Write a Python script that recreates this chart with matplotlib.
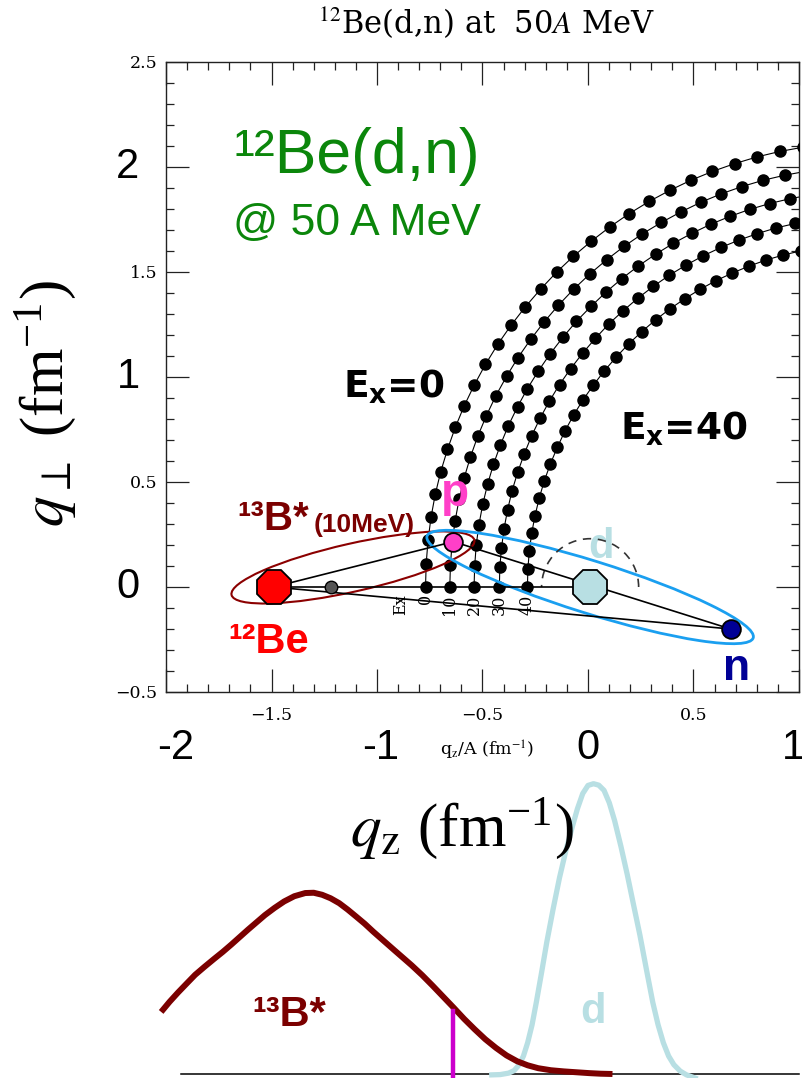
import matplotlib
matplotlib.use('Agg')
import matplotlib.pyplot as plt
from matplotlib.patches import Ellipse, Arc
from matplotlib.ticker import MultipleLocator

plt.rcParams['mathtext.fontset'] = 'stix'

# ---------------- data ----------------
ex_values = ['0', '10', '20', '30', '40']

qz_ex0 = [-0.770, -0.767, -0.758, -0.744, -0.724, -0.698, -0.666, -0.629, -0.587, -0.539, -0.486, -0.428, -0.365, -0.297,
          -0.225, -0.149, -0.069, 0.016, 0.104, 0.195, 0.290, 0.388, 0.488, 0.590, 0.695, 0.801, 0.909, 1.018]
qp_ex0 = [0.000, 0.111, 0.222, 0.332, 0.441, 0.549, 0.655, 0.760, 0.862, 0.962, 1.060, 1.155, 1.246, 1.334,
          1.418, 1.499, 1.575, 1.647, 1.715, 1.778, 1.836, 1.889, 1.937, 1.979, 2.016, 2.048, 2.074, 2.094]
qz_ex10 = [-0.655, -0.652, -0.644, -0.630, -0.611, -0.587, -0.557, -0.522, -0.482, -0.437, -0.386, -0.332, -0.272, -0.208,
           -0.140, -0.068, 0.008, 0.088, 0.171, 0.258, 0.348, 0.440, 0.535, 0.631, 0.730, 0.831, 0.933, 1.036]
qp_ex10 = [0.000, 0.105, 0.210, 0.314, 0.417, 0.519, 0.620, 0.719, 0.815, 0.910, 1.003, 1.092, 1.179, 1.262,
           1.342, 1.418, 1.490, 1.558, 1.622, 1.682, 1.736, 1.786, 1.832, 1.872, 1.907, 1.937, 1.961, 1.980]
qz_ex20 = [-0.540, -0.537, -0.530, -0.517, -0.499, -0.476, -0.448, -0.415, -0.377, -0.334, -0.287, -0.235, -0.179, -0.119,
           -0.055, 0.014, 0.085, 0.161, 0.239, 0.321, 0.405, 0.492, 0.581, 0.673, 0.766, 0.861, 0.957, 1.054]
qp_ex20 = [0.000, 0.099, 0.198, 0.296, 0.393, 0.489, 0.584, 0.677, 0.769, 0.858, 0.945, 1.029, 1.111, 1.189,
           1.265, 1.336, 1.404, 1.469, 1.529, 1.585, 1.637, 1.684, 1.727, 1.765, 1.798, 1.826, 1.849, 1.867]
qz_ex30 = [-0.420, -0.418, -0.410, -0.398, -0.381, -0.360, -0.333, -0.302, -0.267, -0.227, -0.183, -0.135, -0.082, -0.025,
           0.035, 0.098, 0.166, 0.236, 0.310, 0.386, 0.465, 0.546, 0.630, 0.716, 0.803, 0.892, 0.982, 1.073]
qp_ex30 = [0.000, 0.093, 0.185, 0.277, 0.368, 0.458, 0.547, 0.634, 0.720, 0.804, 0.885, 0.964, 1.040, 1.114,
           1.184, 1.252, 1.315, 1.375, 1.432, 1.485, 1.533, 1.577, 1.617, 1.652, 1.683, 1.710, 1.731, 1.748]
qz_ex40 = [-0.287, -0.285, -0.278, -0.267, -0.251, -0.231, -0.207, -0.178, -0.145, -0.109, -0.068, -0.023, 0.026, 0.078,
           0.134, 0.193, 0.255, 0.320, 0.388, 0.459, 0.532, 0.607, 0.684, 0.763, 0.844, 0.926, 1.010, 1.094]
qp_ex40 = [0.000, 0.086, 0.171, 0.256, 0.340, 0.424, 0.506, 0.587, 0.666, 0.743, 0.819, 0.892, 0.962, 1.030,
           1.095, 1.158, 1.216, 1.272, 1.324, 1.373, 1.418, 1.459, 1.495, 1.528, 1.557, 1.581, 1.601, 1.617]

curves_qz = [qz_ex0, qz_ex10, qz_ex20, qz_ex30, qz_ex40]
curves_qp = [qp_ex0, qp_ex10, qp_ex20, qp_ex30, qp_ex40]

# particle vectors (q_z, q_perp)
be12 = (-1.49, 0.0)
cm_pt = (-1.22, 0.0)
proton = (-0.638, 0.216)
deut = (0.01, 0.0)
neutron = (0.676, -0.200)

# ellipses: center, width, height, angle
b13_ell = ((-1.114, 0.093), 1.18, 0.228, 12.8)
pn_ell = ((0.01, 0.0), 1.62, 0.25, -17.4)
d_arc_radius = 0.23

# momentum distributions (bottom)
b13_qz = [-2.023, -1.983, -1.943, -1.902, -1.862, -1.817, -1.772, -1.731, -1.691, -1.651, -1.611, -1.571, -1.531,
          -1.485, -1.440, -1.392, -1.340, -1.300, -1.260, -1.220, -1.179, -1.139, -1.099, -1.058, -1.018, -0.968,
          -0.918, -0.877, -0.836, -0.786, -0.737, -0.687, -0.637, -0.587, -0.537, -0.487, -0.436, -0.386, -0.336,
          -0.286, -0.236, -0.176, -0.115, -0.055, 0.006, 0.060, 0.116]
b13_y = [0.214, 0.249, 0.281, 0.312, 0.342, 0.370, 0.397, 0.421, 0.446, 0.472, 0.498, 0.523, 0.548,
         0.573, 0.595, 0.613, 0.624, 0.625, 0.618, 0.606, 0.589, 0.567, 0.543, 0.518, 0.491, 0.459,
         0.427, 0.401, 0.375, 0.341, 0.305, 0.267, 0.229, 0.190, 0.154, 0.120, 0.090, 0.064, 0.044,
         0.030, 0.020, 0.013, 0.009, 0.006, 0.003, 0.001, 0.000]
d_qz = [-0.456, -0.416, -0.376, -0.350, -0.326, -0.306, -0.286, -0.265, -0.245, -0.220, -0.195, -0.165, -0.135,
        -0.105, -0.075, -0.050, -0.025, 0.000, 0.026, 0.051, 0.076, 0.101, 0.126, 0.156, 0.186, 0.216, 0.246,
        0.277, 0.307, 0.332, 0.357, 0.382, 0.407, 0.437, 0.467, 0.508]
d_y = [-0.003, -0.002, 0.003, 0.012, 0.032, 0.062, 0.108, 0.170, 0.247, 0.350, 0.456, 0.570, 0.677,
       0.770, 0.851, 0.915, 0.967, 0.995, 1.001, 0.996, 0.978, 0.935, 0.874, 0.785, 0.688, 0.583, 0.479,
       0.360, 0.247, 0.170, 0.108, 0.062, 0.032, 0.010, -0.003, -0.014]
p_mark_qz = -0.64
p_mark_y = [-0.01, 0.218]
base_qz = [-1.93, 1.0]

x_major = [-2.0, -1.5, -1.0, -0.5, 0.0, 0.5, 1.0]
x_small_labels = ['', '\u22121.5', '', '\u22120.5', '', '0.5', '']
y_major = [-0.5, 0.0, 0.5, 1.0, 1.5, 2.0, 2.5]
y_small_labels = ['\u22120.5', '', '0.5', '', '1.5', '', '2.5']
big_x_labels = ['-2', '-1', '0', '1']
big_y_labels = ['2', '1', '0']

# colors
maroon = '#7b0000'
lightblue = '#b8dfe3'
magenta = '#cc00cc'
pink = '#ff3fc8'
navy = '#000096'
green = '#0b860b'
red = '#ff0000'
ell_blue = '#1a9ff0'

# ---------------- figure ----------------
W, H = 803, 1078
fig = plt.figure(figsize=(W / 100, H / 100), dpi=100)


def fx(px):
    return px / W


def fy(py):
    return 1 - py / H


ax = fig.add_axes([fx(166), fy(692), (799 - 166) / W, (692 - 62) / H])
ax.set_xlim(-2, 1)
ax.set_ylim(-0.5, 2.5)
ax.set_xticks(x_major, x_small_labels, fontfamily='DejaVu Serif', fontsize=12.5)
ax.set_yticks(y_major, y_small_labels, fontfamily='DejaVu Serif', fontsize=12.5)
ax.xaxis.set_minor_locator(MultipleLocator(0.1))
ax.yaxis.set_minor_locator(MultipleLocator(0.1))
ax.tick_params(which='both', direction='in', top=True, right=True, width=0.9, color='#222222')
ax.tick_params(which='major', length=16.5)
ax.tick_params(which='minor', length=5.8)
ax.tick_params(axis='x', pad=11)
ax.tick_params(axis='y', pad=6)
for s in ax.spines.values():
    s.set_linewidth(1.0)
    s.set_color('#222222')

# kinematic curves
for qz, qp in zip(curves_qz, curves_qp):
    ax.plot(qz, qp, '-', color='black', lw=0.8, marker='o', ms=8, mfc='black', mec='black', zorder=3)

# Ex labels under curves
ax.text(curves_qz[0][0] - 0.12, -0.035, 'Ex', rotation=90, ha='center', va='top',
        fontfamily='DejaVu Serif', fontsize=11.5, zorder=2)
for lab, qz in zip(ex_values, curves_qz):
    ax.text(qz[0], -0.035, lab, rotation=90, ha='center', va='top',
            fontfamily='DejaVu Serif', fontsize=11.5, zorder=2)

# ellipses
(c1, w1, h1, a1) = b13_ell
ax.add_patch(Ellipse(c1, w1, h1, angle=a1, fill=False, ec='#8b0000', lw=1.5, zorder=4))
(c2, w2, h2, a2) = pn_ell
ax.add_patch(Ellipse(c2, w2, h2, angle=a2, fill=False, ec=ell_blue, lw=2.0, zorder=4))
ax.add_patch(Arc(deut, 2 * d_arc_radius, 2 * d_arc_radius, theta1=0, theta2=180,
                 ls=(0, (5, 4)), color='#333333', lw=1.2, zorder=4))

# vector lines
for a, b in [(be12, deut), (be12, proton), (be12, neutron), (proton, neutron)]:
    ax.plot([a[0], b[0]], [a[1], b[1]], color='black', lw=1.2, zorder=5)

# particles
ax.plot(*be12, marker='8', ms=26, mfc=red, mec='black', mew=1.3, zorder=6)
ax.plot(*deut, marker='8', ms=26, mfc=lightblue, mec='black', mew=1.3, zorder=6)
ax.plot(*cm_pt, marker='o', ms=9, mfc='#555555', mec='black', mew=1.0, zorder=6)
ax.plot(*proton, marker='o', ms=13.5, mfc=pink, mec='black', mew=1.3, zorder=6)
ax.plot(*neutron, marker='o', ms=13.5, mfc=navy, mec='black', mew=1.3, zorder=6)

# labels inside plot
sans = 'Liberation Sans'
ax.text(-1.682, 1.971, '\u00b9\u00b2Be(d,n)', color=green, fontfamily=sans, fontsize=45, ha='left', va='baseline')
ax.text(-1.682, 1.676, '@ 50 A MeV', color=green, fontfamily=sans, fontsize=32, ha='left', va='baseline')
ax.text(-1.161, 0.90, r'E$_{\mathbf{x}}$=0', color='black', fontfamily='DejaVu Sans', fontweight='bold',
        fontsize=27, math_fontfamily='dejavusans', ha='left', va='baseline')
ax.text(0.152, 0.70, r'E$_{\mathbf{x}}$=40', color='black', fontfamily='DejaVu Sans', fontweight='bold',
        fontsize=27, math_fontfamily='dejavusans', ha='left', va='baseline')
ax.text(-1.664, 0.271, '\u00b9\u00b3B*', color=maroon, fontfamily=sans, fontweight='bold', fontsize=29,
        ha='left', va='baseline')
ax.text(-1.300, 0.262, '(10MeV)', color=maroon, fontfamily=sans, fontweight='bold', fontsize=19,
        ha='left', va='baseline')
ax.text(-1.706, -0.314, '\u00b9\u00b2Be', color=red, fontfamily=sans, fontweight='bold', fontsize=30,
        ha='left', va='baseline')
ax.text(-0.630, 0.386, 'p', color=pink, fontfamily=sans, fontweight='bold', fontsize=33, ha='center', va='baseline')
ax.text(0.062, 0.138, 'd', color=lightblue, fontfamily=sans, fontweight='bold', fontsize=30, ha='center', va='baseline')
ax.text(0.706, -0.443, 'n', color=navy, fontfamily=sans, fontweight='bold', fontsize=32, ha='center', va='baseline')

# title and axis texts
fig.text(fx(486), fy(23), r'$^{12}$Be(d,n) at  50$A$ MeV', ha='center', va='center',
         fontfamily='DejaVu Serif', fontsize=22)
fig.text(fx(487), fy(750), r'q$_{\rm z}$/A (fm$^{-1}$)', ha='center', va='center',
         fontfamily='DejaVu Serif', fontsize=12.5)

big_x_px = [176, 381, 588, 793]
for lab, px in zip(big_x_labels, big_x_px):
    fig.text(fx(px), fy(748), lab, ha='center', va='center', fontfamily=sans, fontsize=30,
             bbox=dict(facecolor='white', edgecolor='none', pad=1.0))
big_y_py = [167, 377, 587]
for lab, py in zip(big_y_labels, big_y_py):
    fig.text(fx(128), fy(py), lab, ha='center', va='center', fontfamily=sans, fontsize=30)

fig.text(fx(45), fy(403), r'$q_{\perp}$ (fm$^{\mathregular{-1}}$)', rotation=90, ha='center', va='center',
         fontfamily='Liberation Serif', fontsize=44)
fig.text(fx(462), fy(828), r'$q_{\mathrm{z}}$ (fm$^{\mathregular{-1}}$)', ha='center', va='center',
         fontfamily='Liberation Serif', fontsize=44)

# ---------------- bottom distributions ----------------
axb = fig.add_axes([fx(166), 0, (799 - 166) / W, (1078 - 770) / H])
axb.set_xlim(-2, 1)
axb.set_ylim(-4 / 290, (1074 - 770) / 290)
axb.axis('off')
axb.plot(base_qz, [0, 0], color='black', lw=1.1, clip_on=False)
axb.plot(b13_qz, b13_y, color=maroon, lw=4.3, clip_on=False, solid_capstyle='butt', zorder=3)
axb.plot(d_qz, d_y, color=lightblue, lw=3.8, clip_on=False, zorder=2)
axb.plot([p_mark_qz, p_mark_qz], p_mark_y, color=magenta, lw=3.2, clip_on=False, zorder=4)
axb.text(-1.592, 0.166, '\u00b9\u00b3B*', color=maroon, fontfamily=sans, fontweight='bold', fontsize=30,
         ha='left', va='baseline')
axb.text(0.024, 0.176, 'd', color=lightblue, fontfamily=sans, fontweight='bold', fontsize=30,
         ha='center', va='baseline')

fig.savefig('out.png', dpi=100, facecolor='white')
